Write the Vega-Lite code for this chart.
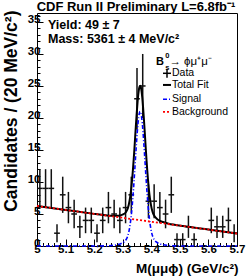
{
  "$schema": "https://vega.github.io/schema/vega-lite/v6.json",
  "autosize": {"type": "none"},
  "padding": {"left": 37, "top": 13, "right": 9, "bottom": 31},
  "width": 200,
  "height": 233,
  "background": "white",
  "config": {
    "view": {"stroke": "black", "strokeWidth": 1},
    "text": {"font": "Liberation Sans", "color": "black"}
  },
  "resolve": {"axis": {"x": "independent", "y": "independent"}},
  "datasets": {
    "bins": [
      {"x0": 5.00, "x1": 5.02, "xc": 5.01, "n": 9, "elo": 6, "ehi": 12},
      {"x0": 5.02, "x1": 5.04, "xc": 5.03, "n": 9, "elo": 6, "ehi": 12},
      {"x0": 5.04, "x1": 5.06, "xc": 5.05, "n": 9, "elo": 6, "ehi": 12},
      {"x0": 5.06, "x1": 5.08, "xc": 5.07, "n": 2, "elo": 0.586, "ehi": 3.414},
      {"x0": 5.08, "x1": 5.10, "xc": 5.09, "n": 8, "elo": 5.172, "ehi": 10.828},
      {"x0": 5.10, "x1": 5.12, "xc": 5.11, "n": 6, "elo": 3.551, "ehi": 8.449},
      {"x0": 5.12, "x1": 5.14, "xc": 5.13, "n": 5, "elo": 2.764, "ehi": 7.236},
      {"x0": 5.14, "x1": 5.16, "xc": 5.15, "n": 3, "elo": 1.268, "ehi": 4.732},
      {"x0": 5.16, "x1": 5.18, "xc": 5.17, "n": 4, "elo": 2, "ehi": 6},
      {"x0": 5.18, "x1": 5.20, "xc": 5.19, "n": 4, "elo": 2, "ehi": 6},
      {"x0": 5.20, "x1": 5.22, "xc": 5.21, "n": 2, "elo": 0.586, "ehi": 3.414},
      {"x0": 5.22, "x1": 5.24, "xc": 5.23, "n": 4, "elo": 2, "ehi": 6},
      {"x0": 5.24, "x1": 5.26, "xc": 5.25, "n": 6, "elo": 3.551, "ehi": 8.449},
      {"x0": 5.26, "x1": 5.28, "xc": 5.27, "n": 5, "elo": 2.764, "ehi": 7.236},
      {"x0": 5.28, "x1": 5.30, "xc": 5.29, "n": 4, "elo": 2, "ehi": 6},
      {"x0": 5.30, "x1": 5.32, "xc": 5.31, "n": 6, "elo": 3.551, "ehi": 8.449},
      {"x0": 5.32, "x1": 5.34, "xc": 5.33, "n": 8, "elo": 5.172, "ehi": 10.828},
      {"x0": 5.34, "x1": 5.36, "xc": 5.35, "n": 23, "elo": 18.204, "ehi": 27.796},
      {"x0": 5.36, "x1": 5.38, "xc": 5.37, "n": 25, "elo": 20, "ehi": 30},
      {"x0": 5.38, "x1": 5.40, "xc": 5.39, "n": 7, "elo": 4.354, "ehi": 9.646},
      {"x0": 5.40, "x1": 5.42, "xc": 5.41, "n": 7, "elo": 4.354, "ehi": 9.646},
      {"x0": 5.42, "x1": 5.44, "xc": 5.43, "n": 6, "elo": 3.551, "ehi": 8.449},
      {"x0": 5.44, "x1": 5.46, "xc": 5.45, "n": 5, "elo": 2.764, "ehi": 7.236},
      {"x0": 5.46, "x1": 5.48, "xc": 5.47, "n": 8, "elo": 5.172, "ehi": 10.828},
      {"x0": 5.48, "x1": 5.50, "xc": 5.49, "n": 1, "elo": 0, "ehi": 2},
      {"x0": 5.50, "x1": 5.52, "xc": 5.51, "n": 1, "elo": 0, "ehi": 2},
      {"x0": 5.52, "x1": 5.54, "xc": 5.53, "n": 3, "elo": 1.268, "ehi": 4.732},
      {"x0": 5.54, "x1": 5.56, "xc": 5.55, "n": 1, "elo": 0, "ehi": 2},
      {"x0": 5.60, "x1": 5.62, "xc": 5.61, "n": 4, "elo": 2, "ehi": 6},
      {"x0": 5.62, "x1": 5.64, "xc": 5.63, "n": 3, "elo": 1.268, "ehi": 4.732},
      {"x0": 5.64, "x1": 5.66, "xc": 5.65, "n": 3, "elo": 1.268, "ehi": 4.732},
      {"x0": 5.66, "x1": 5.68, "xc": 5.67, "n": 4, "elo": 2, "ehi": 6},
      {"x0": 5.68, "x1": 5.70, "xc": 5.69, "n": 2, "elo": 0.586, "ehi": 3.414}
    ],
    "total": [
      {"x": 5.0, "y": 6.25}, {"x": 5.1, "y": 5.64}, {"x": 5.2, "y": 5.02}, {"x": 5.211, "y": 4.95},
      {"x": 5.241, "y": 4.79}, {"x": 5.261, "y": 4.72}, {"x": 5.281, "y": 4.72}, {"x": 5.291, "y": 4.78},
      {"x": 5.301, "y": 4.93}, {"x": 5.311, "y": 5.28}, {"x": 5.316, "y": 5.69}, {"x": 5.321, "y": 6.41},
      {"x": 5.326, "y": 7.62}, {"x": 5.331, "y": 9.46}, {"x": 5.3335, "y": 10.66}, {"x": 5.336, "y": 12.04},
      {"x": 5.3385, "y": 13.57}, {"x": 5.341, "y": 15.17}, {"x": 5.3435, "y": 16.98}, {"x": 5.346, "y": 18.73},
      {"x": 5.3485, "y": 20.42}, {"x": 5.351, "y": 21.94}, {"x": 5.3535, "y": 23.25}, {"x": 5.356, "y": 24.23},
      {"x": 5.3585, "y": 24.84}, {"x": 5.361, "y": 25.03}, {"x": 5.3635, "y": 24.81}, {"x": 5.366, "y": 24.17},
      {"x": 5.3685, "y": 23.16}, {"x": 5.371, "y": 21.82}, {"x": 5.3735, "y": 20.27}, {"x": 5.376, "y": 18.55},
      {"x": 5.3785, "y": 16.77}, {"x": 5.381, "y": 14.99}, {"x": 5.3835, "y": 13.29}, {"x": 5.386, "y": 11.73},
      {"x": 5.3885, "y": 10.32}, {"x": 5.391, "y": 9.09}, {"x": 5.396, "y": 7.19}, {"x": 5.401, "y": 5.92},
      {"x": 5.406, "y": 5.14}, {"x": 5.411, "y": 4.67}, {"x": 5.421, "y": 4.19}, {"x": 5.431, "y": 3.92},
      {"x": 5.441, "y": 3.74}, {"x": 5.461, "y": 3.49}, {"x": 5.481, "y": 3.32}, {"x": 5.511, "y": 3.11},
      {"x": 5.6, "y": 2.56}, {"x": 5.7, "y": 1.95}
    ],
    "signal": [
      {"x": 5.0, "y": 0}, {"x": 5.2, "y": 0}, {"x": 5.211, "y": 0}, {"x": 5.241, "y": 0.02},
      {"x": 5.261, "y": 0.07}, {"x": 5.281, "y": 0.2}, {"x": 5.291, "y": 0.32}, {"x": 5.301, "y": 0.53},
      {"x": 5.311, "y": 0.94}, {"x": 5.316, "y": 1.38}, {"x": 5.321, "y": 2.13}, {"x": 5.326, "y": 3.37},
      {"x": 5.331, "y": 5.24}, {"x": 5.3335, "y": 6.46}, {"x": 5.336, "y": 7.85}, {"x": 5.3385, "y": 9.4},
      {"x": 5.341, "y": 11.08}, {"x": 5.3435, "y": 12.84}, {"x": 5.346, "y": 14.61}, {"x": 5.3485, "y": 16.31},
      {"x": 5.351, "y": 17.85}, {"x": 5.3535, "y": 19.17}, {"x": 5.356, "y": 20.17}, {"x": 5.3585, "y": 20.79},
      {"x": 5.361, "y": 21.0}, {"x": 5.3635, "y": 20.79}, {"x": 5.366, "y": 20.17}, {"x": 5.3685, "y": 19.17},
      {"x": 5.371, "y": 17.85}, {"x": 5.3735, "y": 16.31}, {"x": 5.376, "y": 14.61}, {"x": 5.3785, "y": 12.84},
      {"x": 5.381, "y": 11.08}, {"x": 5.3835, "y": 9.4}, {"x": 5.386, "y": 7.85}, {"x": 5.3885, "y": 6.46},
      {"x": 5.391, "y": 5.24}, {"x": 5.396, "y": 3.37}, {"x": 5.401, "y": 2.13}, {"x": 5.406, "y": 1.38},
      {"x": 5.411, "y": 0.94}, {"x": 5.421, "y": 0.53}, {"x": 5.431, "y": 0.32}, {"x": 5.441, "y": 0.2},
      {"x": 5.461, "y": 0.07}, {"x": 5.481, "y": 0.02}, {"x": 5.511, "y": 0}, {"x": 5.7, "y": 0}
    ],
    "background": [
      {"x": 5.0, "y": 6.25}, {"x": 5.7, "y": 1.95}
    ],
    "one": [{}]
  },
  "layer": [
    {
      "data": {"name": "bins"},
      "mark": {"type": "rule", "color": "#111", "strokeWidth": 1.5},
      "encoding": {
        "x": {"field": "x0", "type": "quantitative", "scale": {"domain": [5, 5.7], "nice": false, "zero": false},
          "axis": {
            "orient": "bottom",
            "title": "M(μμϕ) (GeV/c²)",
            "values": [5, 5.1, 5.2, 5.3, 5.4, 5.5, 5.6, 5.7],
            "format": "~g",
            "tickSize": -7,
            "tickColor": "black", "tickWidth": 1, "domain": false, "grid": false,
            "labelFont": "Liberation Sans", "labelFontWeight": "bold", "labelFontSize": 11.5, "labelColor": "black",
            "labelPadding": 4.5, "labelOverlap": false, "labelFlush": false, "labelBound": false,
            "titleFont": "Liberation Sans", "titleFontWeight": "bold", "titleFontSize": 13.5, "titleColor": "black",
            "titleAnchor": "end", "titleAlign": "right", "titleBaseline": "alphabetic", "titleX": 201, "titleY": 26
          }},
        "x2": {"field": "x1"},
        "y": {"field": "n", "type": "quantitative", "scale": {"domain": [0, 36.4], "nice": false, "zero": true},
          "axis": {
            "orient": "left",
            "title": "Candidates / (20 MeV/c²)",
            "values": [0, 5, 10, 15, 20, 25, 30, 35],
            "tickSize": -6,
            "tickColor": "black", "tickWidth": 1, "domain": false, "grid": false,
            "labelFont": "Liberation Sans", "labelFontWeight": "bold", "labelFontSize": 11.5, "labelColor": "black",
            "labelPadding": 3, "labelOffset": -2.5, "labelOverlap": false, "labelFlush": false, "labelBound": false,
            "titleFont": "Liberation Sans", "titleFontWeight": "bold", "titleFontSize": 17.5, "titleColor": "black",
            "titleAnchor": "end", "titleAngle": -90, "titleAlign": "right", "titleBaseline": "middle", "titleX": -26, "titleY": -3
          }}
      }
    },
    {
      "data": {"name": "bins"},
      "mark": {"type": "rule", "color": "#111", "strokeWidth": 1.5},
      "encoding": {
        "x": {"field": "xc", "type": "quantitative", "scale": {"domain": [5, 5.7], "nice": false, "zero": false},
          "axis": {"orient": "bottom", "title": null, "labels": false, "domain": false, "grid": false,
            "values": [5.02, 5.04, 5.06, 5.08, 5.12, 5.14, 5.16, 5.18, 5.22, 5.24, 5.26, 5.28, 5.32, 5.34, 5.36, 5.38, 5.42, 5.44, 5.46, 5.48, 5.52, 5.54, 5.56, 5.58, 5.62, 5.64, 5.66, 5.68],
            "tickSize": -3.5, "tickColor": "black", "tickWidth": 1}},
        "y": {"field": "elo", "type": "quantitative", "scale": {"domain": [0, 36.4], "nice": false},
          "axis": {"orient": "left", "title": null, "labels": false, "domain": false, "grid": false,
            "values": [1, 2, 3, 4, 6, 7, 8, 9, 11, 12, 13, 14, 16, 17, 18, 19, 21, 22, 23, 24, 26, 27, 28, 29, 31, 32, 33, 34, 36],
            "tickSize": -3, "tickColor": "black", "tickWidth": 1}},
        "y2": {"field": "ehi"}
      }
    },
    {
      "data": {"name": "total"},
      "mark": {"type": "line", "color": "black", "strokeWidth": 2, "interpolate": "monotone"},
      "encoding": {
        "x": {"field": "x", "type": "quantitative", "scale": {"domain": [5, 5.7], "nice": false, "zero": false}, "axis": null},
        "y": {"field": "y", "type": "quantitative", "scale": {"domain": [0, 36.4], "nice": false}, "axis": null}
      }
    },
    {
      "data": {"name": "signal"},
      "mark": {"type": "line", "color": "#0000ff", "strokeWidth": 1.6, "strokeDash": [4, 2, 1, 2], "interpolate": "monotone"},
      "encoding": {
        "x": {"field": "x", "type": "quantitative", "scale": {"domain": [5, 5.7], "nice": false, "zero": false}, "axis": null},
        "y": {"field": "y", "type": "quantitative", "scale": {"domain": [0, 36.4], "nice": false}, "axis": null}
      }
    },
    {
      "data": {"name": "background"},
      "mark": {"type": "line", "color": "#ff0000", "strokeWidth": 1.8, "strokeDash": [2, 2]},
      "encoding": {
        "x": {"field": "x", "type": "quantitative", "scale": {"domain": [5, 5.7], "nice": false, "zero": false}, "axis": null},
        "y": {"field": "y", "type": "quantitative", "scale": {"domain": [0, 36.4], "nice": false}, "axis": null}
      }
    },
    {
      "data": {"name": "one"},
      "mark": {"type": "text", "fontSize": 13, "fontWeight": "bold", "align": "center", "baseline": "alphabetic"},
      "encoding": {"x": {"datum": 5.3465, "axis": null}, "y": {"datum": 36.72, "axis": null}, "text": {"value": "CDF Run II Preliminary L=6.8fb⁻¹"}}
    },
    {
      "data": {"name": "one"},
      "mark": {"type": "text", "fontSize": 12.5, "fontWeight": "bold", "align": "left", "baseline": "alphabetic"},
      "encoding": {"x": {"datum": 5.0385, "axis": null}, "y": {"datum": 33.9, "axis": null}, "text": {"value": "Yield: 49 ± 7"}}
    },
    {
      "data": {"name": "one"},
      "mark": {"type": "text", "fontSize": 12.5, "fontWeight": "bold", "align": "left", "baseline": "alphabetic"},
      "encoding": {"x": {"datum": 5.0385, "axis": null}, "y": {"datum": 31.75, "axis": null}, "text": {"value": "Mass: 5361 ± 4 MeV/c²"}}
    },
    {
      "data": {"name": "one"},
      "mark": {"type": "text", "fontSize": 11, "fontWeight": "bold", "align": "left", "baseline": "alphabetic"},
      "encoding": {"x": {"datum": 5.4165, "axis": null}, "y": {"datum": 28.28, "axis": null}, "text": {"value": "B"}}
    },
    {
      "data": {"name": "one"},
      "mark": {"type": "text", "fontSize": 7.5, "fontWeight": "bold", "align": "left", "baseline": "alphabetic"},
      "encoding": {"x": {"datum": 5.4485, "axis": null}, "y": {"datum": 29.3, "axis": null}, "text": {"value": "0"}}
    },
    {
      "data": {"name": "one"},
      "mark": {"type": "text", "fontSize": 7.5, "fontWeight": "bold", "align": "left", "baseline": "alphabetic"},
      "encoding": {"x": {"datum": 5.4485, "axis": null}, "y": {"datum": 27.55, "axis": null}, "text": {"value": "s"}}
    },
    {
      "data": {"name": "one"},
      "mark": {"type": "text", "fontSize": 11.5, "align": "left", "baseline": "alphabetic"},
      "encoding": {"x": {"datum": 5.4635, "axis": null}, "y": {"datum": 28.28, "axis": null}, "text": {"value": "→ ϕμ⁺μ⁻"}}
    },
    {
      "data": {"name": "one"},
      "mark": {"type": "rule", "color": "black", "strokeWidth": 1.5},
      "encoding": {"x": {"datum": 5.441, "axis": null}, "x2": {"datum": 5.469}, "y": {"datum": 26.98, "axis": null}}
    },
    {
      "data": {"name": "one"},
      "mark": {"type": "rule", "color": "black", "strokeWidth": 1.5},
      "encoding": {"x": {"datum": 5.455, "axis": null}, "y": {"datum": 27.65, "axis": null}, "y2": {"datum": 26.3}}
    },
    {
      "data": {"name": "one"},
      "mark": {"type": "rule", "color": "black", "strokeWidth": 2},
      "encoding": {"x": {"datum": 5.441, "axis": null}, "x2": {"datum": 5.469}, "y": {"datum": 25.16, "axis": null}}
    },
    {
      "data": {"name": "one"},
      "mark": {"type": "rule", "color": "#0000ff", "strokeWidth": 1.6, "strokeDash": [4, 2, 1, 2]},
      "encoding": {"x": {"datum": 5.441, "axis": null}, "x2": {"datum": 5.469}, "y": {"datum": 22.92, "axis": null}}
    },
    {
      "data": {"name": "one"},
      "mark": {"type": "rule", "color": "#ff0000", "strokeWidth": 1.8, "strokeDash": [2, 2]},
      "encoding": {"x": {"datum": 5.441, "axis": null}, "x2": {"datum": 5.469}, "y": {"datum": 20.94, "axis": null}}
    },
    {
      "data": {"name": "one"},
      "mark": {"type": "text", "fontSize": 10.5, "align": "left", "baseline": "middle"},
      "encoding": {"x": {"datum": 5.4725, "axis": null}, "y": {"datum": 26.98, "axis": null}, "text": {"value": "Data"}}
    },
    {
      "data": {"name": "one"},
      "mark": {"type": "text", "fontSize": 10.5, "align": "left", "baseline": "middle"},
      "encoding": {"x": {"datum": 5.4725, "axis": null}, "y": {"datum": 25.16, "axis": null}, "text": {"value": "Total Fit"}}
    },
    {
      "data": {"name": "one"},
      "mark": {"type": "text", "fontSize": 10.5, "align": "left", "baseline": "middle"},
      "encoding": {"x": {"datum": 5.4725, "axis": null}, "y": {"datum": 22.92, "axis": null}, "text": {"value": "Signal"}}
    },
    {
      "data": {"name": "one"},
      "mark": {"type": "text", "fontSize": 10.5, "align": "left", "baseline": "middle"},
      "encoding": {"x": {"datum": 5.4725, "axis": null}, "y": {"datum": 20.94, "axis": null}, "text": {"value": "Background"}}
    }
  ]
}
